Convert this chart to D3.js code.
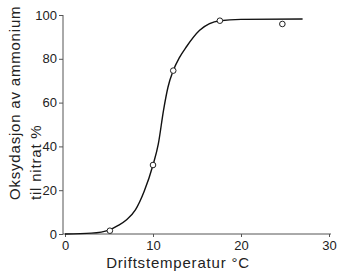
<!DOCTYPE html>
<html>
<head>
<meta charset="utf-8">
<script src="https://cdn.jsdelivr.net/npm/d3@7"></script>
<style>
  body { margin: 0; background: #fff; }
  text { font-family: "Liberation Sans", Arial, sans-serif; fill: #222; }
</style>
</head>
<body>
<svg id="chart" width="339" height="272"></svg>
<script>
// measured points
const tempPoints = [5.1, 10.0, 12.3, 17.6, 24.7];
const oxidPoints = [1.5, 31.5, 74.6, 97.4, 95.9];

// fitted curve as drawn
const curveTemp = [0, 3, 5, 6, 7, 8, 9, 10, 10.6, 11.2, 11.7, 12.3, 13, 13.8, 15.3, 17.6, 20, 27];
const curveOxid = [0, 0.4, 1.8, 3.8, 6.5, 11, 19.5, 31.5, 41, 56.6, 67, 74.6, 80.5, 85.5, 93, 97.4, 98, 98.2];

const xTicks = [0, 10, 20, 30];
const yTicks = [0, 20, 40, 60, 80, 100];

const svg = d3.select("#chart");

const x = d3.scaleLinear().domain([0, 30]).range([65, 329]);
const y = d3.scaleLinear().domain([0, 100]).range([234, 15]);
const axisX = 63;

// y axis
const yAxis = svg.append("g")
  .attr("transform", `translate(${axisX},0)`)
  .call(d3.axisLeft(y).tickValues(yTicks).tickSize(4).tickPadding(2));

// x axis
const xAxis = svg.append("g")
  .attr("transform", `translate(0,${y(0)})`)
  .call(d3.axisBottom(x).tickValues(xTicks).tickSize(3).tickPadding(4));

[yAxis, xAxis].forEach(g => {
  g.selectAll("path").attr("stroke", "#555").attr("stroke-width", 1);
  g.selectAll("line").attr("stroke", "#555");
  g.selectAll("text").attr("font-size", 13).attr("fill", "#222")
    .style("font-family", "'Liberation Sans', Arial, sans-serif");
});
yAxis.select("path").attr("d", `M0,${y(100)}V${y(0)}`);
xAxis.select("path").attr("d", `M${axisX},0H${x(30) + 2}`);

// curve
const curveData = curveTemp.map((t, i) => [t, curveOxid[i]]);
svg.append("path")
  .datum(curveData)
  .attr("fill", "none")
  .attr("stroke", "#111")
  .attr("stroke-width", 1.4)
  .attr("d", d3.line().x(d => x(d[0])).y(d => y(d[1])).curve(d3.curveMonotoneX));

// markers
svg.append("g")
  .selectAll("circle")
  .data(tempPoints.map((t, i) => [t, oxidPoints[i]]))
  .join("circle")
  .attr("cx", d => x(d[0]))
  .attr("cy", d => y(d[1]))
  .attr("r", 2.8)
  .attr("fill", "#fff")
  .attr("stroke", "#222")
  .attr("stroke-width", 1);

// titles
svg.append("text")
  .attr("x", 178).attr("y", 268)
  .attr("text-anchor", "middle")
  .attr("font-size", 15)
  .attr("letter-spacing", 0.8)
  .text("Driftstemperatur °C");

const yTitle = svg.append("text")
  .attr("transform", "translate(0,200) rotate(-90)")
  .attr("font-size", 15)
  .attr("letter-spacing", 0.8);
yTitle.append("tspan").attr("x", 0).attr("y", 20).text("Oksydasjon av ammonium");
yTitle.append("tspan").attr("x", 0).attr("y", 41).text("til nitrat %");
</script>
</body>
</html>
